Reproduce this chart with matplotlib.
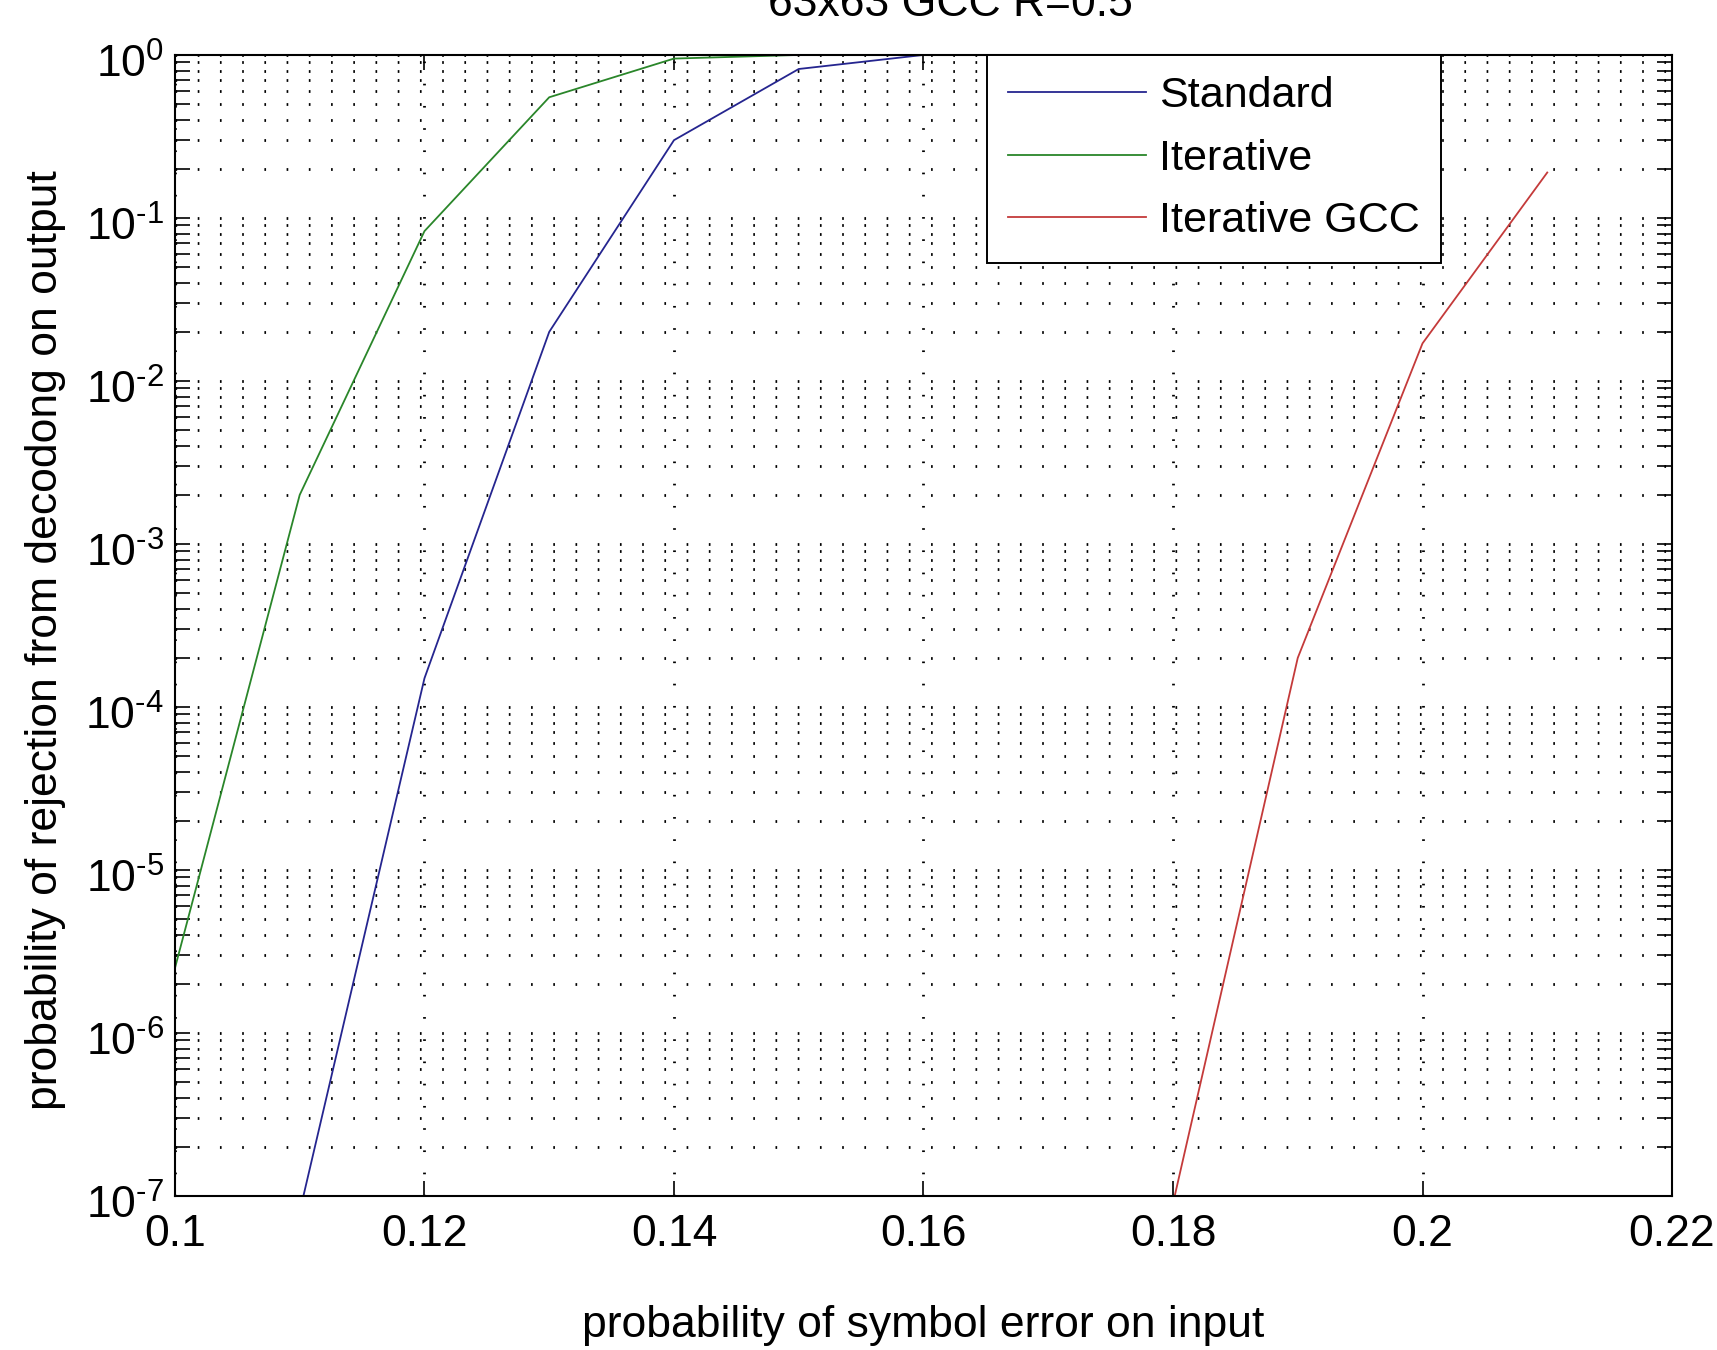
import numpy as np
import matplotlib
matplotlib.use("Agg")
import matplotlib.pyplot as plt
from matplotlib.ticker import NullFormatter, FixedLocator
from matplotlib.transforms import ScaledTranslation

# values
x_standard = [0.11, 0.12, 0.13, 0.14, 0.15, 0.16]
y_standard = [8e-8, 1.5e-4, 2.0e-2, 0.30, 0.82, 1.0]

x_iterative = [0.10, 0.11, 0.12, 0.13, 0.14, 0.15]
y_iterative = [2.5e-6, 2.0e-3, 8.3e-2, 0.55, 0.95, 1.0]

x_gcc = [0.18, 0.19, 0.20, 0.21]
y_gcc = [9e-8, 2.0e-4, 1.7e-2, 0.19]

series_names = ["Standard", "Iterative", "Iterative GCC"]
x_ticks = [0.10, 0.12, 0.14, 0.16, 0.18, 0.20, 0.22]
x_tick_labels = ["0.1", "0.12", "0.14", "0.16", "0.18", "0.2", "0.22"]
y_exponents = [-7, -6, -5, -4, -3, -2, -1, 0]

plt.rcParams["font.family"] = ["Liberation Sans", "DejaVu Sans"]
plt.rcParams["mathtext.fontset"] = "custom"
plt.rcParams["mathtext.rm"] = "Liberation Sans"
plt.rcParams["mathtext.default"] = "regular"

FS = 32
dots = (0, (0.6, 7.4))

fig = plt.figure(figsize=(17.17, 13.5), dpi=100)
ax = fig.add_axes([0.1019, 0.1141, 0.8719, 0.8452])

ax.plot(x_standard, y_standard, color="#25258f", lw=1.3, label=series_names[0], zorder=3)
ax.plot(x_iterative, y_iterative, color="#2a862a", lw=1.3, label=series_names[1], zorder=3)
ax.plot(x_gcc, y_gcc, color="#c43a3a", lw=1.3, label=series_names[2], zorder=3)

ax.set_yscale("log")
ax.set_xlim(0.10, 0.22)
ax.set_ylim(1e-7, 1e0)
ax.set_xticks(x_ticks)
ax.set_xticklabels(x_tick_labels)

# decade ticks with a plain hyphen in the exponent, like MATLAB
y_ticks = [10.0 ** e for e in y_exponents]
y_tick_labels = []
for e in y_exponents:
    if e < 0:
        y_tick_labels.append(r"$10^{\text{-}%d}$" % abs(e))
    else:
        y_tick_labels.append(r"$10^{%d}$" % e)
ax.set_yticks(y_ticks)
ax.set_yticklabels(y_tick_labels)
minor = [m * 10.0 ** e for e in y_exponents[:-1] for m in range(2, 10)]
ax.yaxis.set_minor_locator(FixedLocator(minor))
ax.yaxis.set_minor_formatter(NullFormatter())

ax.tick_params(which="both", direction="in", top=True, right=True,
               length=11, width=1.2, labelsize=FS)
ax.tick_params(axis="x", pad=13)
ax.tick_params(axis="y", pad=8)

# MATLAB puts the "10" a little below the tick
shift = ScaledTranslation(0, -4 / 72, fig.dpi_scale_trans)
for lab in ax.get_yticklabels():
    lab.set_transform(lab.get_transform() + shift)

ax.grid(which="major", axis="both", color="k", lw=2.0, ls=dots)
ax.grid(which="minor", axis="y", color="k", lw=2.0, ls=dots)
ax.set_axisbelow(True)
for sp in ax.spines.values():
    sp.set_linewidth(1.5)
    sp.set_zorder(5)

ax.set_xlabel("probability of symbol error on input", fontsize=FS, labelpad=36)
ax.set_ylabel("probability of rejection from decodong on output", fontsize=FS)
ax.yaxis.set_label_coords(-0.073, 0.487)

fig.text(0.5533, 0.988, "63x63 GCC R=0.5", ha="center", va="baseline", fontsize=FS)

leg = ax.legend(loc="upper left", bbox_to_anchor=(0.5424, 1.0), fontsize=31,
                fancybox=False, framealpha=1.0, edgecolor="k",
                handlelength=3.2, handletextpad=0.3, borderpad=0.5,
                labelspacing=0.52, borderaxespad=0)
leg.get_frame().set_linewidth(1.4)
leg.set_zorder(6)

fig.savefig("out.png", dpi=100)
